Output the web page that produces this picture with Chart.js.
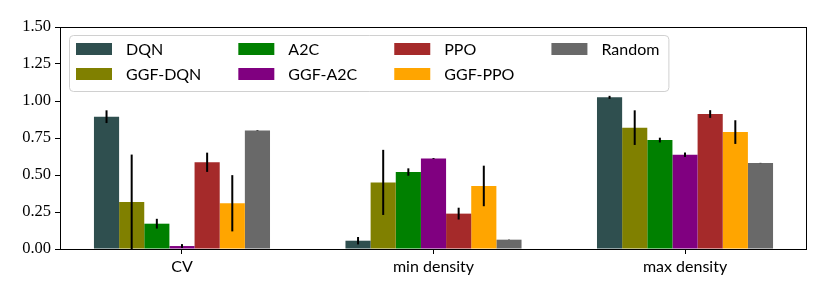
<!DOCTYPE html>
<html>
<head>
<meta charset="utf-8">
<script src="https://cdn.jsdelivr.net/npm/chart.js@4"></script>
<style>
  body { margin: 0; background: #fff; }
  canvas { display: block; }
</style>
</head>
<body>
<canvas id="chart" width="830" height="298"></canvas>
<script>
// categories and series
const categories = ["CV", "min density", "max density"];
const yTicks = [0, 0.25, 0.5, 0.75, 1.0, 1.25, 1.5];

const dqn     = [0.894, 0.056, 1.025];
const ggfDqn  = [0.318, 0.450, 0.820];
const a2c     = [0.171, 0.520, 0.736];
const ggfA2c  = [0.020, 0.612, 0.637];
const ppo     = [0.586, 0.239, 0.912];
const ggfPpo  = [0.309, 0.426, 0.790];
const random  = [0.800, 0.063, 0.581];

const dqnErr    = [0.043, 0.025, 0.010];
const ggfDqnErr = [0.320, 0.220, 0.117];
const a2cErr    = [0.033, 0.025, 0.016];
const ggfA2cErr = [0.013, 0.003, 0.015];
const ppoErr    = [0.065, 0.040, 0.026];
const ggfPpoErr = [0.190, 0.137, 0.080];
const randomErr = [0.002, 0.001, 0.001];

const series = [
  { label: "DQN",     values: dqn,    err: dqnErr,    color: "#2f4f4f" },
  { label: "GGF-DQN", values: ggfDqn, err: ggfDqnErr, color: "#808000" },
  { label: "A2C",     values: a2c,    err: a2cErr,    color: "#008000" },
  { label: "GGF-A2C", values: ggfA2c, err: ggfA2cErr, color: "#800080" },
  { label: "PPO",     values: ppo,    err: ppoErr,    color: "#a52a2a" },
  { label: "GGF-PPO", values: ggfPpo, err: ggfPpoErr, color: "#ffa500" },
  { label: "Random",  values: random, err: randomErr, color: "#696969" }
];

const sansFont = "Lato, 'Liberation Sans', sans-serif";
const serifFont = "'Liberation Serif', serif";

// error bars drawn through the scales
const errorBars = {
  id: 'errorBars',
  afterDatasetsDraw(chart) {
    const ctx = chart.ctx;
    const ys = chart.scales.y;
    const area = chart.chartArea;
    ctx.save();
    ctx.beginPath();
    ctx.rect(area.left, area.top, area.right - area.left, area.bottom - area.top);
    ctx.clip();
    ctx.strokeStyle = '#000';
    ctx.lineWidth = 2;
    chart.data.datasets.forEach((ds, di) => {
      const meta = chart.getDatasetMeta(di);
      meta.data.forEach((bar, i) => {
        const v = ds.data[i].y, e = ds.errors[i];
        ctx.beginPath();
        ctx.moveTo(bar.x, ys.getPixelForValue(v + e));
        ctx.lineTo(bar.x, ys.getPixelForValue(v - e));
        ctx.stroke();
      });
    });
    ctx.restore();
  }
};

// axes frame + matplotlib-like legend (column-major, 4 columns)
const frameAndLegend = {
  id: 'frameAndLegend',
  afterDraw(chart) {
    const ctx = chart.ctx;
    const a = chart.chartArea;
    ctx.save();
    ctx.strokeStyle = '#000';
    ctx.lineWidth = 1;
    ctx.strokeRect(Math.round(a.left) + 0.5, Math.round(a.top) + 0.5,
                   Math.round(a.right - a.left) - 1, Math.round(a.bottom - a.top));

    ctx.font = "16px " + sansFont;
    const nrows = 2;
    const cols = [];
    series.forEach((s, i) => {
      const c = Math.floor(i / nrows);
      (cols[c] = cols[c] || []).push(s);
    });
    const boxL = a.left + 9, boxT = a.top + 8;
    const swW = 36, swH = 12, textGap = 14, colGap = 37;
    const rowY = [boxT + 14, boxT + 39];
    let x = boxL + 7;
    const colX = [];
    cols.forEach(col => {
      colX.push(x);
      const w = Math.max(...col.map(s => ctx.measureText(s.label).width));
      x += swW + textGap + w + colGap;
    });
    const boxR = x - colGap + 9;
    const boxB = boxT + 56;

    ctx.beginPath();
    ctx.roundRect(boxL + 0.5, boxT + 0.5, boxR - boxL, boxB - boxT, 4);
    ctx.fillStyle = 'rgba(255,255,255,0.8)';
    ctx.fill();
    ctx.strokeStyle = '#d0d0d0';
    ctx.stroke();

    ctx.textBaseline = 'middle';
    ctx.textAlign = 'left';
    cols.forEach((col, c) => {
      col.forEach((s, r) => {
        ctx.fillStyle = s.color;
        ctx.fillRect(colX[c], rowY[r] - swH / 2, swW, swH);
        ctx.fillStyle = '#000';
        ctx.fillText(s.label, colX[c] + swW + textGap, rowY[r] + 1);
      });
    });
    ctx.restore();
  }
};

const ctx = document.getElementById("chart").getContext("2d");
new Chart(ctx, {
  type: 'bar',
  data: {
    datasets: series.map(s => ({
      label: s.label,
      data: s.values.map((v, i) => ({ x: i, y: v })),
      errors: s.err,
      backgroundColor: s.color,
      borderWidth: 0
    }))
  },
  options: {
    responsive: false,
    animation: false,
    categoryPercentage: 0.7,
    barPercentage: 1.0,
    layout: { padding: { top: 27, right: 23, left: 0, bottom: 0 } },
    plugins: {
      legend: { display: false },
      tooltip: { enabled: false }
    },
    scales: {
      x: {
        type: 'linear',
        min: -0.485,
        max: 2.485,
        offset: false,
        afterFit: s => { s.height = 49; },
        grid: { display: true, drawOnChartArea: false, offset: false, tickLength: 5, color: '#000', lineWidth: 1 },
        border: { display: false },
        ticks: {
          stepSize: 1,
          includeBounds: false,
          padding: 3,
          color: '#000',
          font: { family: sansFont, size: 16 },
          callback: v => categories[v] ?? ''
        }
      },
      y: {
        min: 0,
        max: 1.5,
        afterFit: s => { s.width = 60; },
        afterBuildTicks: s => { s.ticks = yTicks.map(v => ({ value: v })); },
        grid: { display: true, drawOnChartArea: false, tickLength: 5, color: '#000', lineWidth: 1 },
        border: { display: false },
        ticks: {
          padding: 4,
          color: '#000',
          font: { family: serifFont, size: 16.5 },
          callback: v => v.toFixed(2)
        }
      }
    }
  },
  plugins: [errorBars, frameAndLegend]
});
</script>
</body>
</html>
